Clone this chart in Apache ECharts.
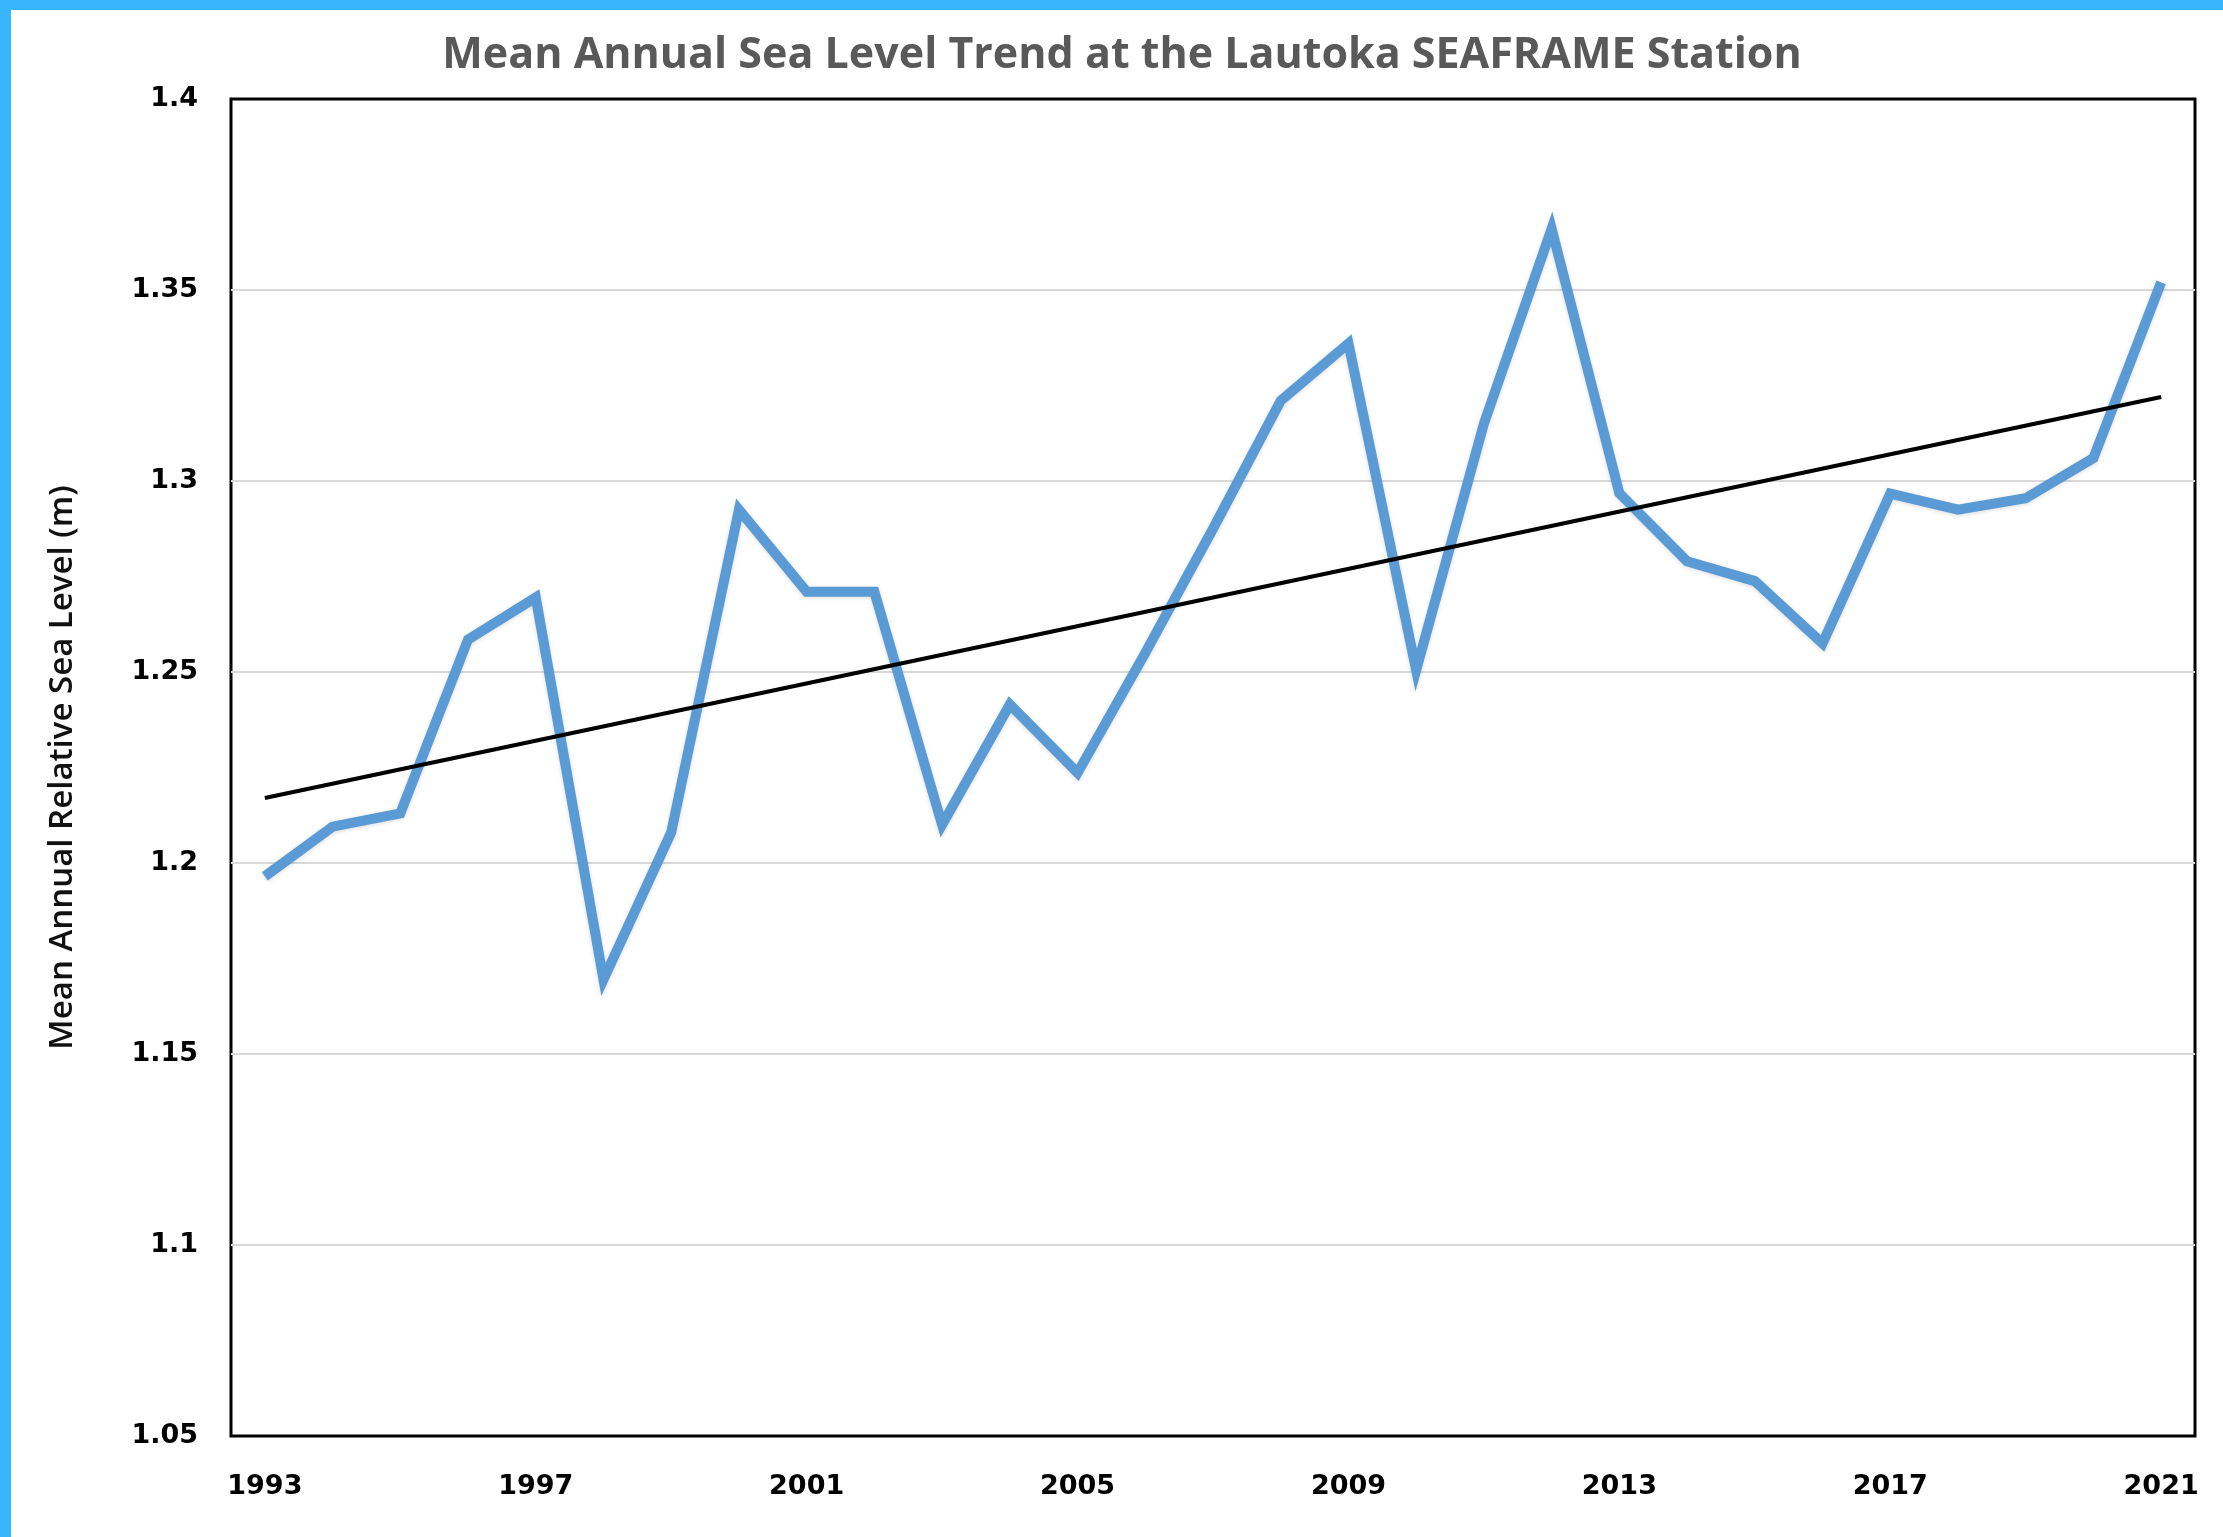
<!DOCTYPE html>
<html>
<head>
<meta charset="utf-8">
<script src="https://cdn.jsdelivr.net/npm/echarts@6/dist/echarts.min.js"></script>
<style>
  html, body { margin: 0; padding: 0; background: #ffffff; }
  #chart { width: 2223px; height: 1537px; }
</style>
</head>
<body>
<div id="chart"></div>
<script>
// ---- data ----
const years = ['1993','1994','1995','1996','1997','1998','1999','2000','2001','2002',
               '2003','2004','2005','2006','2007','2008','2009','2010','2011','2012',
               '2013','2014','2015','2016','2017','2018','2019','2020','2021'];
const seaLevel = [1.1965, 1.2095, 1.2130, 1.2585, 1.2695, 1.1695, 1.2080, 1.2925, 1.2710, 1.2710,
                  1.2100, 1.2415, 1.2236, 1.2550, 1.2875, 1.3210, 1.3360, 1.2505, 1.3150, 1.3660,
                  1.2968, 1.2790, 1.2738, 1.2575, 1.2967, 1.2925, 1.2955, 1.3060, 1.3520];
const trendYears = ['1993', '2021'];
const trendValues = [1.217, 1.322];
const yTicks = { min: 1.05, max: 1.4, step: 0.05 };
const titleText = 'Mean Annual Sea Level Trend at the Lautoka SEAFRAME Station';
const yAxisTitle = 'Mean Annual Relative Sea Level (m)';

const chart = echarts.init(document.getElementById('chart'), null, { renderer: 'canvas' });

const option = {
  backgroundColor: '#ffffff',
  animation: false,
  title: {
    text: titleText,
    left: 1117,
    textAlign: 'center',
    top: 29,
    textStyle: {
      fontFamily: 'Open Sans',
      fontWeight: 'bold',
      fontSize: 43,
      color: '#595959'
    }
  },
  graphic: [
    { type: 'rect', left: 0, top: 0, shape: { width: 2223, height: 10 }, style: { fill: '#39B5FD' }, z: 100 },
    { type: 'rect', left: 0, top: 0, shape: { width: 11, height: 1537 }, style: { fill: '#39B5FD' }, z: 100 }
  ],
  grid: {
    left: 231,
    right: 28,
    top: 99,
    bottom: 101,
    show: true,
    borderColor: '#000000',
    borderWidth: 3,
    backgroundColor: '#ffffff',
    containLabel: false
  },
  xAxis: {
    type: 'category',
    data: years,
    boundaryGap: true,
    axisLine: { show: false },
    axisTick: { show: false },
    splitLine: { show: false },
    axisLabel: {
      interval: 3,
      margin: 37,
      color: '#000000',
      fontFamily: 'DejaVu Sans',
      fontWeight: 'bold',
      fontSize: 27
    }
  },
  yAxis: {
    type: 'value',
    min: yTicks.min,
    max: yTicks.max,
    interval: yTicks.step,
    name: yAxisTitle,
    nameLocation: 'middle',
    nameRotate: 90,
    nameGap: 152,
    nameTextStyle: {
      fontFamily: 'Open Sans',
      fontWeight: 600,
      fontSize: 33,
      color: '#111111'
    },
    axisLine: { show: false },
    axisTick: { show: false },
    splitLine: {
      show: true,
      showMinLine: false,
      showMaxLine: false,
      lineStyle: { color: '#d9d9d9', width: 2 }
    },
    axisLabel: {
      margin: 33,
      color: '#000000',
      fontFamily: 'DejaVu Sans',
      fontWeight: 'bold',
      fontSize: 27,
      formatter: v => String(+v.toFixed(2))
    }
  },
  series: [
    {
      name: 'Mean annual sea level',
      type: 'line',
      data: seaLevel,
      showSymbol: false,
      symbol: 'none',
      lineStyle: {
        color: '#5B9BD5',
        width: 10,
        join: 'miter',
        shadowColor: 'rgba(0,0,0,0.15)',
        shadowBlur: 4,
        shadowOffsetY: 1
      },
      z: 2
    },
    {
      name: 'Trend',
      type: 'line',
      data: trendYears.map((y, i) => [y, trendValues[i]]),
      showSymbol: false,
      symbol: 'none',
      lineStyle: { color: '#000000', width: 4 },
      z: 3
    }
  ]
};

chart.setOption(option);
</script>
</body>
</html>
